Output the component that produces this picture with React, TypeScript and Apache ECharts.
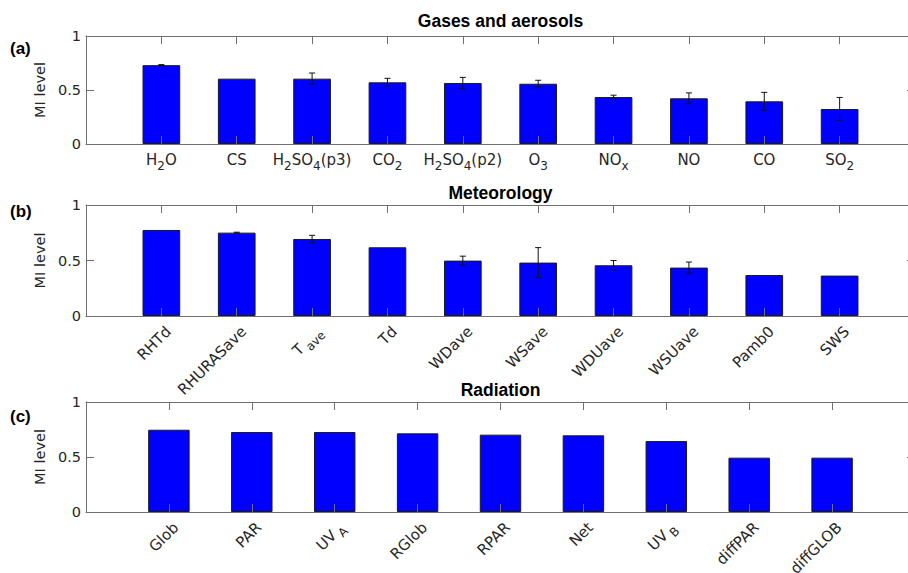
import React, { useEffect, useRef } from 'react';
import * as echarts from 'echarts';

// ---- data ----
const gasLabels = ['H{s|2}O', 'CS', 'H{s|2}SO{s|4}(p3)', 'CO{s|2}', 'H{s|2}SO{s|4}(p2)', 'O{s|3}', 'NO{s|x}', 'NO', 'CO', 'SO{s|2}'];
const gasValues = [0.73, 0.605, 0.605, 0.571, 0.565, 0.558, 0.435, 0.423, 0.395, 0.324];
const gasErrors = [0.005, 0, 0.052, 0.037, 0.052, 0.032, 0.017, 0.05, 0.083, 0.107];

const metLabels = ['RHTd', 'RHURASave', 'T{s|ave}', 'Td', 'WDave', 'WSave', 'WDUave', 'WSUave', 'Pamb0', 'SWS'];
const metValues = [0.775, 0.751, 0.694, 0.619, 0.499, 0.481, 0.457, 0.436, 0.369, 0.364];
const metErrors = [0, 0.004, 0.033, 0, 0.04, 0.135, 0.043, 0.05, 0, 0];

const radLabels = ['Glob', 'PAR', 'UV{s|A}', 'RGlob', 'RPAR', 'Net', 'UV{s|B}', 'diffPAR', 'diffGLOB'];
const radValues = [0.748, 0.727, 0.727, 0.715, 0.703, 0.697, 0.645, 0.494, 0.494];
const radErrors = [0, 0, 0, 0, 0, 0, 0, 0, 0];

const panelTitles = ['Gases and aerosols', 'Meteorology', 'Radiation'];
const panelTags = ['(a)', '(b)', '(c)'];
const yAxisTitle = 'MI level';
const yMin = 0;
const yMax = 1;
const yStep = 0.5;

// ---- layout / style ----
const W = 908;
const H = 573;
const LEFT = 86;
const RIGHT = -7;
const plotW = W - LEFT - RIGHT;
const AXIS_COLOR = '#707070';
const TEXT_COLOR = '#262626';
const FONT = '"DejaVu Sans", sans-serif';
const TITLE_FONT = '"Liberation Sans", Arial, sans-serif';

const panels = [
  { labels: gasLabels, values: gasValues, errors: gasErrors, top: 36, height: 108, rotate: 0, titleY: 21, tagY: 48 },
  { labels: metLabels, values: metValues, errors: metErrors, top: 205, height: 111, rotate: 45, titleY: 193, tagY: 211 },
  { labels: radLabels, values: radValues, errors: radErrors, top: 402, height: 110, rotate: 45, titleY: 390, tagY: 416 },
];

export default function App() {
  const ref = useRef<HTMLDivElement>(null);

  useEffect(() => {
    if (!ref.current) return;
    const chart = echarts.init(ref.current, undefined, { renderer: 'svg' });

    const grid: any[] = [];
    const xAxis: any[] = [];
    const yAxis: any[] = [];
    const series: any[] = [];
    const graphic: any[] = [];
    const lineStyle = { color: AXIS_COLOR, width: 1 };

    panels.forEach((p, i) => {
      const n = p.labels.length;
      grid.push({
        left: LEFT,
        right: RIGHT,
        top: p.top,
        height: p.height,
        containLabel: false,
        outerBoundsMode: 'none',
      });
      const rotated = p.rotate !== 0;
      const subStyle = {
        fontSize: 12,
        fontFamily: FONT,
        color: TEXT_COLOR,
        padding: [12, 0, 0, rotated ? 3 : 0],
      };
      const common = {
        type: 'value',
        gridIndex: i,
        min: 0,
        max: n + 1,
        interval: 1,
        z: 3,
        splitLine: { show: false },
        axisLine: { show: true, onZero: false, lineStyle },
        axisTick: { show: true, inside: true, length: 8, lineStyle },
      };
      xAxis.push({
        ...common,
        position: 'bottom',
        axisLabel: {
          show: true,
          rotate: p.rotate,
          margin: rotated ? 20 : 7,
          padding: rotated ? [0, -10, 0, 0] : 0,
          fontFamily: FONT,
          fontSize: 15,
          lineHeight: 18,
          color: TEXT_COLOR,
          formatter: (v: number) => {
            const k = Math.round(v) - 1;
            return k >= 0 && k < n ? p.labels[k] : '';
          },
          rich: { s: subStyle },
        },
      });
      xAxis.push({ ...common, position: 'top', axisLabel: { show: false } });

      const yCommon = {
        type: 'value',
        gridIndex: i,
        min: yMin,
        max: yMax,
        interval: yStep,
        z: 3,
        splitLine: { show: false },
        axisLine: { show: true, onZero: false, lineStyle },
        axisTick: { show: true, inside: true, length: 8, lineStyle },
      };
      yAxis.push({
        ...yCommon,
        position: 'left',
        axisLabel: { margin: 5, fontFamily: FONT, fontSize: 14.5, color: TEXT_COLOR },
        name: yAxisTitle,
        nameLocation: 'middle',
        nameGap: 28,
        nameTextStyle: { fontFamily: FONT, fontSize: 14.5, color: TEXT_COLOR },
      });
      yAxis.push({ ...yCommon, position: 'right', axisLabel: { show: false } });

      series.push({
        type: 'bar',
        xAxisIndex: 2 * i,
        yAxisIndex: 2 * i,
        data: p.values.map((v, k) => [k + 1, v]),
        barWidth: (plotW / (n + 1)) * 0.5,
        itemStyle: { color: '#0000ff', borderColor: '#1a1a1a', borderWidth: 1 },
        z: 2,
      });

      const errData = p.values
        .map((v, k) => [k + 1, v - p.errors[k], v + p.errors[k], p.errors[k]])
        .filter((d) => d[3] > 0);
      if (errData.length) {
        series.push({
          type: 'custom',
          xAxisIndex: 2 * i,
          yAxisIndex: 2 * i,
          data: errData,
          encode: { x: 0, y: [1, 2] },
          z: 4,
          renderItem: (_params: any, api: any) => {
            const x = api.value(0);
            const lo = api.coord([x, api.value(1)]);
            const hi = api.coord([x, api.value(2)]);
            const cap = 3;
            const st = { stroke: '#111', lineWidth: 1 };
            return {
              type: 'group',
              children: [
                { type: 'line', shape: { x1: lo[0], y1: lo[1], x2: hi[0], y2: hi[1] }, style: st },
                { type: 'line', shape: { x1: lo[0] - cap, y1: lo[1], x2: lo[0] + cap, y2: lo[1] }, style: st },
                { type: 'line', shape: { x1: hi[0] - cap, y1: hi[1], x2: hi[0] + cap, y2: hi[1] }, style: st },
              ],
            };
          },
        });
      }

      graphic.push({
        type: 'text',
        x: LEFT + plotW / 2,
        y: p.titleY,
        style: {
          text: panelTitles[i],
          font: `bold 17.5px ${TITLE_FONT}`,
          fill: '#000',
          align: 'center',
          verticalAlign: 'middle',
          textAlign: 'center',
          textVerticalAlign: 'middle',
        },
      });
      graphic.push({
        type: 'text',
        x: 10,
        y: p.tagY,
        style: {
          text: panelTags[i],
          font: `bold 17px ${TITLE_FONT}`,
          fill: '#000',
          align: 'left',
          verticalAlign: 'middle',
          textAlign: 'left',
          textVerticalAlign: 'middle',
        },
      });
    });

    chart.setOption({
      animation: false,
      backgroundColor: '#fff',
      grid,
      xAxis,
      yAxis,
      series,
      graphic,
    });
    return () => chart.dispose();
  }, []);

  return <div ref={ref} style={{ position: 'absolute', left: 0, top: 0, width: W, height: H }} />;
}
